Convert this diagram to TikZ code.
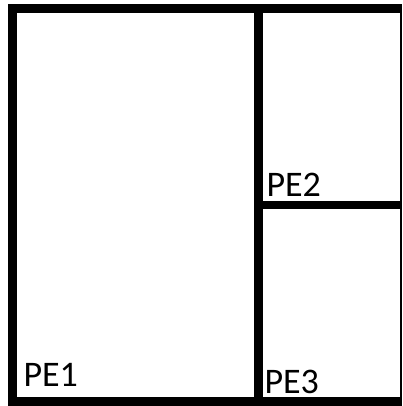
\documentclass[tikz,border=0pt]{standalone}
\usepackage{fontspec}
\setmainfont{Carlito}
\tikzset{
  wall/.style={fill=black,draw=none},
  pelabel/.style={anchor=base west,inner sep=0pt,font=\fontsize{36}{40}\selectfont}
}
\begin{document}
\begin{tikzpicture}[x=1pt,y=-1pt]
\useasboundingbox[fill=white] (0,0) rectangle (402,406);
% outer frame
\fill[wall] (8,4) rectangle (402,13);
\fill[wall] (8,4) rectangle (17,406);
\fill[wall] (8,397) rectangle (402,406);
\fill[wall] (399.5,4) rectangle (402,406);
% dividers
\fill[wall] (254,4) rectangle (263,406);
\fill[wall] (263,201) rectangle (402,209);
% labels
\node[pelabel] (pe1) at (23.3,386) {PE1};
\node[pelabel] (pe2) at (266.3,196) {PE2};
\node[pelabel] (pe3) at (264.3,393.5) {PE3};
\end{tikzpicture}
\end{document}
